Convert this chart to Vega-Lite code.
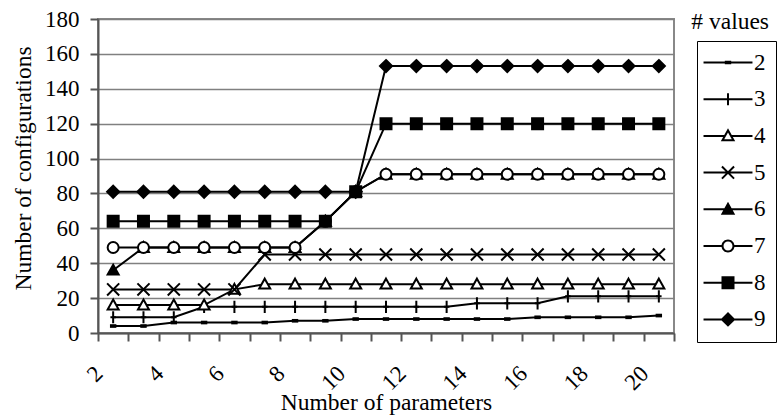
{
  "$schema": "https://vega.github.io/schema/vega-lite/v6.json",
  "background": "white",
  "autosize": "none",
  "width": 576,
  "height": 314,
  "padding": {"left": 98, "top": 19, "right": 107, "bottom": 82},
  "config": {
    "font": "Liberation Serif, 'Times New Roman', 'DejaVu Serif', serif",
    "view": {"stroke": "#888888", "strokeWidth": 2},
    "axis": {
      "domainColor": "#555555",
      "domainWidth": 2,
      "tickColor": "#555555",
      "tickWidth": 2,
      "tickSize": 8,
      "gridColor": "#808080",
      "gridWidth": 1.5,
      "labelColor": "black",
      "labelFont": "Liberation Serif, 'Times New Roman', 'DejaVu Serif', serif",
      "labelFontSize": 23,
      "titleFont": "Liberation Serif, 'Times New Roman', 'DejaVu Serif', serif",
      "titleFontSize": 23.5,
      "titleFontWeight": "normal",
      "titleColor": "black"
    }
  },
  "title": {
    "text": "# values",
    "anchor": "end",
    "frame": "group",
    "orient": "top",
    "offset": -25,
    "dx": 95,
    "fontSize": 23.5,
    "font": "Liberation Serif, 'Times New Roman', 'DejaVu Serif', serif",
    "fontWeight": "normal",
    "color": "black"
  },
  "datasets": {
    "d": [
      {"x":2,"series":"2","y":4},{"x":3,"series":"2","y":4},{"x":4,"series":"2","y":6},{"x":5,"series":"2","y":6},{"x":6,"series":"2","y":6},{"x":7,"series":"2","y":6},{"x":8,"series":"2","y":7},{"x":9,"series":"2","y":7},{"x":10,"series":"2","y":8},{"x":11,"series":"2","y":8},{"x":12,"series":"2","y":8},{"x":13,"series":"2","y":8},{"x":14,"series":"2","y":8},{"x":15,"series":"2","y":8},{"x":16,"series":"2","y":9},{"x":17,"series":"2","y":9},{"x":18,"series":"2","y":9},{"x":19,"series":"2","y":9},{"x":20,"series":"2","y":10},
      {"x":2,"series":"3","y":9},{"x":3,"series":"3","y":9},{"x":4,"series":"3","y":9},{"x":5,"series":"3","y":15},{"x":6,"series":"3","y":15},{"x":7,"series":"3","y":15},{"x":8,"series":"3","y":15},{"x":9,"series":"3","y":15},{"x":10,"series":"3","y":15},{"x":11,"series":"3","y":15},{"x":12,"series":"3","y":15},{"x":13,"series":"3","y":15},{"x":14,"series":"3","y":17},{"x":15,"series":"3","y":17},{"x":16,"series":"3","y":17},{"x":17,"series":"3","y":21},{"x":18,"series":"3","y":21},{"x":19,"series":"3","y":21},{"x":20,"series":"3","y":21},
      {"x":2,"series":"4","y":16},{"x":3,"series":"4","y":16},{"x":4,"series":"4","y":16},{"x":5,"series":"4","y":16},{"x":6,"series":"4","y":25},{"x":7,"series":"4","y":28},{"x":8,"series":"4","y":28},{"x":9,"series":"4","y":28},{"x":10,"series":"4","y":28},{"x":11,"series":"4","y":28},{"x":12,"series":"4","y":28},{"x":13,"series":"4","y":28},{"x":14,"series":"4","y":28},{"x":15,"series":"4","y":28},{"x":16,"series":"4","y":28},{"x":17,"series":"4","y":28},{"x":18,"series":"4","y":28},{"x":19,"series":"4","y":28},{"x":20,"series":"4","y":28},
      {"x":2,"series":"5","y":25},{"x":3,"series":"5","y":25},{"x":4,"series":"5","y":25},{"x":5,"series":"5","y":25},{"x":6,"series":"5","y":25},{"x":7,"series":"5","y":45},{"x":8,"series":"5","y":45},{"x":9,"series":"5","y":45},{"x":10,"series":"5","y":45},{"x":11,"series":"5","y":45},{"x":12,"series":"5","y":45},{"x":13,"series":"5","y":45},{"x":14,"series":"5","y":45},{"x":15,"series":"5","y":45},{"x":16,"series":"5","y":45},{"x":17,"series":"5","y":45},{"x":18,"series":"5","y":45},{"x":19,"series":"5","y":45},{"x":20,"series":"5","y":45},
      {"x":2,"series":"6","y":36},{"x":3,"series":"6","y":49},{"x":4,"series":"6","y":49},{"x":5,"series":"6","y":49},{"x":6,"series":"6","y":49},{"x":7,"series":"6","y":49},{"x":8,"series":"6","y":49},{"x":9,"series":"6","y":64},{"x":10,"series":"6","y":81},{"x":11,"series":"6","y":91},{"x":12,"series":"6","y":91},{"x":13,"series":"6","y":91},{"x":14,"series":"6","y":91},{"x":15,"series":"6","y":91},{"x":16,"series":"6","y":91},{"x":17,"series":"6","y":91},{"x":18,"series":"6","y":91},{"x":19,"series":"6","y":91},{"x":20,"series":"6","y":91},
      {"x":2,"series":"7","y":49},{"x":3,"series":"7","y":49},{"x":4,"series":"7","y":49},{"x":5,"series":"7","y":49},{"x":6,"series":"7","y":49},{"x":7,"series":"7","y":49},{"x":8,"series":"7","y":49},{"x":9,"series":"7","y":64},{"x":10,"series":"7","y":81},{"x":11,"series":"7","y":91},{"x":12,"series":"7","y":91},{"x":13,"series":"7","y":91},{"x":14,"series":"7","y":91},{"x":15,"series":"7","y":91},{"x":16,"series":"7","y":91},{"x":17,"series":"7","y":91},{"x":18,"series":"7","y":91},{"x":19,"series":"7","y":91},{"x":20,"series":"7","y":91},
      {"x":2,"series":"8","y":64},{"x":3,"series":"8","y":64},{"x":4,"series":"8","y":64},{"x":5,"series":"8","y":64},{"x":6,"series":"8","y":64},{"x":7,"series":"8","y":64},{"x":8,"series":"8","y":64},{"x":9,"series":"8","y":64},{"x":10,"series":"8","y":81},{"x":11,"series":"8","y":120},{"x":12,"series":"8","y":120},{"x":13,"series":"8","y":120},{"x":14,"series":"8","y":120},{"x":15,"series":"8","y":120},{"x":16,"series":"8","y":120},{"x":17,"series":"8","y":120},{"x":18,"series":"8","y":120},{"x":19,"series":"8","y":120},{"x":20,"series":"8","y":120},
      {"x":2,"series":"9","y":81},{"x":3,"series":"9","y":81},{"x":4,"series":"9","y":81},{"x":5,"series":"9","y":81},{"x":6,"series":"9","y":81},{"x":7,"series":"9","y":81},{"x":8,"series":"9","y":81},{"x":9,"series":"9","y":81},{"x":10,"series":"9","y":81},{"x":11,"series":"9","y":153},{"x":12,"series":"9","y":153},{"x":13,"series":"9","y":153},{"x":14,"series":"9","y":153},{"x":15,"series":"9","y":153},{"x":16,"series":"9","y":153},{"x":17,"series":"9","y":153},{"x":18,"series":"9","y":153},{"x":19,"series":"9","y":153},{"x":20,"series":"9","y":153}
    ]
  },
  "data": {"name": "d"},
  "encoding": {
    "x": {
      "field": "x",
      "type": "quantitative",
      "scale": {"domain": [1.5, 20.5], "nice": false, "zero": false},
      "axis": {
        "title": "Number of parameters",
        "values": [1.5,2.5,3.5,4.5,5.5,6.5,7.5,8.5,9.5,10.5,11.5,12.5,13.5,14.5,15.5,16.5,17.5,18.5,19.5,20.5],
        "labelExpr": "((datum.value + 0.5) % 2 == 0 && datum.value < 20) ? format(datum.value + 0.5, 'd') : ''",
        "labelAngle": -45,
        "labelOffset": -7,
        "labelPadding": 21,
        "labelOverlap": false,
        "labelFlush": false,
        "labelBound": false,
        "grid": false,
        "titlePadding": -4
      }
    },
    "y": {
      "field": "y",
      "type": "quantitative",
      "scale": {"domain": [0, 180], "nice": false},
      "axis": {
        "title": "Number of configurations",
        "values": [0,20,40,60,80,100,120,140,160,180],
        "grid": true,
        "labelPadding": 11,
        "titlePadding": 9,
        "titleY": 149
      }
    }
  },
  "layer": [
    {
      "mark": {"type": "line", "color": "black", "strokeWidth": 2},
      "encoding": {"detail": {"field": "series", "type": "nominal"}}
    },
    {
      "mark": {"type": "point", "stroke": "black", "strokeWidth": 2, "opacity": 1, "size": 121},
      "encoding": {
        "shape": {
          "field": "series", "type": "nominal", "legend": null,
          "scale": {
            "domain": ["2","3","4","5","6","7","8","9"],
            "range": [
              "M-0.4,-0.15H0.4V0.15H-0.4Z",
              "M0,-1.1V1.1M-0.5,0H0.5",
              "M0,-1L1,0.8H-1Z",
              "M-1.1,-1.1L1.1,1.1M-1.1,1.1L1.1,-1.1",
              "M0,-1L1,0.8H-1Z",
              "M1,0A1,1,0,1,1,-1,0A1,1,0,1,1,1,0Z",
              "M-1,-1H1V1H-1Z",
              "M0,-1.1L1.1,0L0,1.1L-1.1,0Z"
            ]
          }
        },
        "fill": {
          "field": "series", "type": "nominal", "legend": null,
          "scale": {
            "domain": ["2","3","4","5","6","7","8","9"],
            "range": ["black","transparent","white","transparent","black","white","black","black"]
          }
        }
      }
    },
    {
      "transform": [{"filter": "false"}],
      "mark": {"type": "point", "filled": true, "color": "black", "opacity": 1, "size": 121},
      "encoding": {
        "shape": {
          "field": "series", "type": "nominal",
          "scale": {
            "domain": ["2","3","4","5","6","7","8","9"],
            "range": [
              "M-4.45,-0.18H4.45V0.18H-4.45Z M-0.58,-0.33H0.58V0.33H-0.58Z",
              "M-4.45,-0.18H4.45V0.18H-4.45Z M-0.18,-1.1H0.18V1.1H-0.18Z",
              "M-4.45,-0.18H-0.55V0.18H-4.45Z M0.55,-0.18H4.45V0.18H0.55Z M0,-1.376L1.31,0.982H-1.31Z M0,-0.624L-0.69,0.618H0.69Z",
              "M-4.45,-0.18H4.45V0.18H-4.45Z M-0.971,-1.229L1.229,0.971L0.971,1.229L-1.229,-0.971Z M-1.229,0.971L0.971,-1.229L1.229,-0.971L-0.971,1.229Z",
              "M-4.45,-0.18H4.45V0.18H-4.45Z M0,-1.376L1.31,0.982H-1.31Z",
              "M-4.45,-0.18H-1V0.18H-4.45Z M1,-0.18H4.45V0.18H1Z M1.182,0A1.182,1.182,0,1,1,-1.182,0A1.182,1.182,0,1,1,1.182,0Z M0.818,0A0.818,0.818,0,1,0,-0.818,0A0.818,0.818,0,1,0,0.818,0Z",
              "M-4.45,-0.18H4.45V0.18H-4.45Z M-1.182,-1.182H1.182V1.182H-1.182Z",
              "M-4.45,-0.18H4.45V0.18H-4.45Z M0,-1.357L1.357,0L0,1.357L-1.357,0Z"
            ]
          },
          "legend": {
            "orient": "none",
            "legendX": 599,
            "legendY": 22,
            "title": null,
            "strokeColor": "black",
            "fillColor": "white",
            "padding": 10,
            "symbolSize": 121,
            "symbolOffset": 9.5,
            "symbolFillColor": "black",
            "labelFont": "Liberation Serif, 'Times New Roman', 'DejaVu Serif', serif",
            "labelFontSize": 23,
            "labelColor": "black",
            "labelOffset": 14.5,
            "labelExpr": "datum.label + '      '",
            "rowPadding": 12.7
          }
        }
      }
    }
  ],
  "resolve": {"scale": {"shape": "independent", "fill": "independent"}}
}
